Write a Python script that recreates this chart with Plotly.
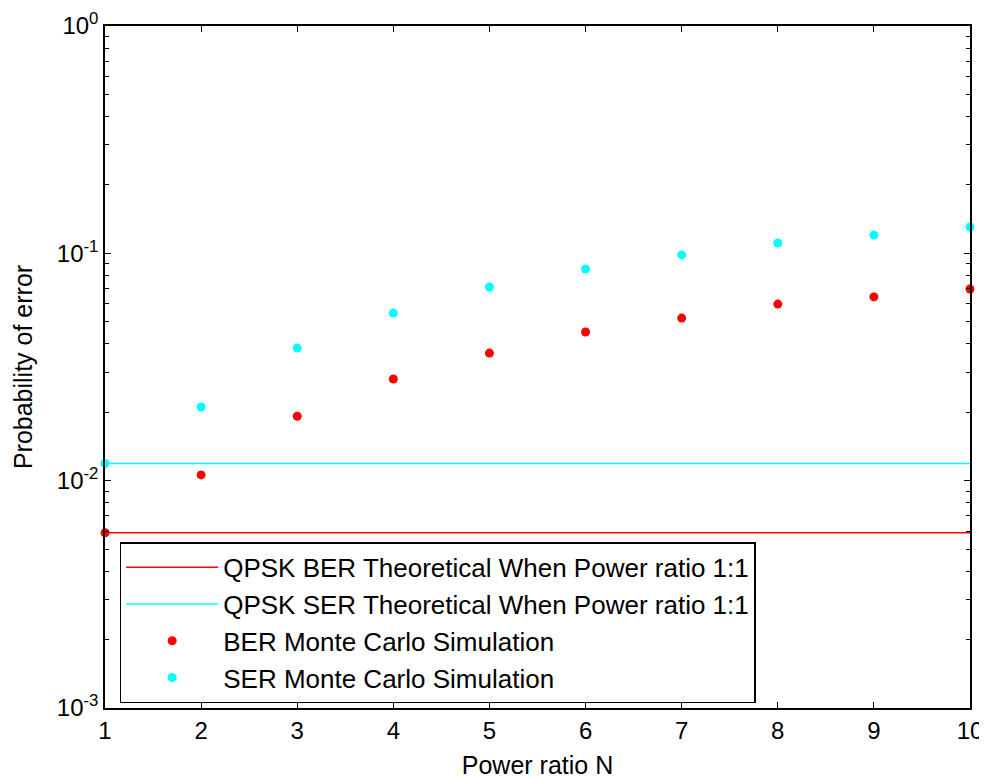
import plotly.graph_objects as go

# power ratio N
power_ratio = [1, 2, 3, 4, 5, 6, 7, 8, 9, 10]

# theoretical values (power ratio 1:1)
ber_theory = 0.0059
ser_theory = 0.0119

# monte carlo results
ber_sim = [0.0059, 0.0106, 0.0192, 0.0280, 0.0364, 0.0451, 0.0519, 0.0598, 0.0643, 0.0697]
ser_sim = [0.0119, 0.0211, 0.0383, 0.0546, 0.0711, 0.0853, 0.0984, 0.1110, 0.1203, 0.1305]

# y tick labels
y_tickvals = [0.001, 0.01, 0.1, 1]
y_ticktext = ["10<sup>-3</sup>", "10<sup>-2</sup>", "10<sup>-1</sup>", "10<sup>0</sup>"]

fnt = "Liberation Sans, Arial, sans-serif"

fig = go.Figure()

fig.add_trace(go.Scatter(
    x=power_ratio, y=[ber_theory] * len(power_ratio),
    mode="lines", name="QPSK BER Theoretical When Power ratio 1:1",
    line=dict(color="red", width=1.5)
))
fig.add_trace(go.Scatter(
    x=power_ratio, y=[ser_theory] * len(power_ratio),
    mode="lines", name="QPSK SER Theoretical When Power ratio 1:1",
    line=dict(color="cyan", width=1.5)
))
fig.add_trace(go.Scatter(
    x=power_ratio, y=ber_sim,
    mode="markers", name="BER Monte Carlo Simulation",
    marker=dict(color="red", size=9), cliponaxis=False
))
fig.add_trace(go.Scatter(
    x=power_ratio, y=ser_sim,
    mode="markers", name="SER Monte Carlo Simulation",
    marker=dict(color="cyan", size=9), cliponaxis=False
))

axis_style = dict(
    showgrid=False, zeroline=False, automargin=False,
    showline=True, linecolor="black", linewidth=1.5,
    mirror="allticks", ticks="inside", ticklen=6, tickcolor="black",
    tickfont=dict(family=fnt, size=24, color="black"),
)

fig.update_xaxes(
    range=[1, 10], dtick=1,
    title=dict(text="Power ratio N", font=dict(family=fnt, size=25, color="black"), standoff=14),
    **axis_style
)
fig.update_yaxes(
    type="log", range=[-3, 0], tickvals=y_tickvals, ticktext=y_ticktext,
    minor=dict(ticks="inside", ticklen=4, tickcolor="black", dtick="D1", showgrid=False),
    title=dict(text="Probability of error", font=dict(family=fnt, size=25, color="black"), standoff=17),
    **axis_style
)

# page body has an 8px margin, so the figure is made 8px smaller
fig.update_layout(
    width=979, height=773,
    margin=dict(l=97, r=17, t=18, b=73),
    paper_bgcolor="white", plot_bgcolor="white",
    font=dict(family=fnt, color="black"),
    legend=dict(
        x=0.017, y=0.007, xanchor="left", yanchor="bottom",
        bordercolor="black", borderwidth=1.5, bgcolor="white",
        font=dict(family=fnt, size=26, color="black"),
        itemwidth=92,
    ),
)

fig.write_html("out.html")
